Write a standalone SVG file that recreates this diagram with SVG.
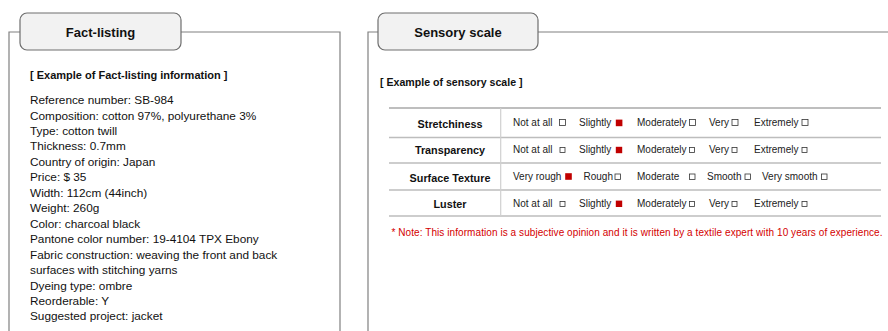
<svg xmlns="http://www.w3.org/2000/svg" width="888" height="331" viewBox="0 0 888 331">
<style>
.frame{fill:none;stroke:#808080;stroke-width:1.2}
.tab{fill:#f2f2f2;stroke:#6e6e6e;stroke-width:1.2}
.title{font-family:"Liberation Sans",Arial,sans-serif;font-weight:bold;font-size:13px;fill:#111;text-anchor:middle}
.hdr{font-family:"Liberation Sans",Arial,sans-serif;font-weight:bold;font-size:11px;fill:#111}
.body{font-family:"Liberation Sans",Arial,sans-serif;font-size:11.8px;fill:#111}
.lbl{font-family:"Liberation Sans",Arial,sans-serif;font-weight:bold;font-size:10.8px;fill:#111;text-anchor:middle}
.opt{font-family:"Liberation Sans",Arial,sans-serif;font-size:10px;fill:#222}
.tl{stroke:#bdbdbd;stroke-width:1.5}
.box{fill:#fff;stroke:#333;stroke-width:0.8}
.on{fill:#c00000}
.note{font-family:"Liberation Sans",Arial,sans-serif;font-size:10px;fill:#d40000}
</style>
<rect width="888" height="331" fill="#fff"/>
<g id="fact-listing">
<path class="frame" d="M9,331 V32 H340 V331"/>
<rect class="tab" x="20" y="13" width="161" height="37" rx="7"/>
<text class="title" x="100.5" y="36.5">Fact-listing</text>
<text class="hdr" x="30" y="79">[ Example of Fact-listing information ]</text>
<g class="body">
<text x="30" y="104">Reference number: SB-984</text>
<text x="30" y="119.5">Composition: cotton 97%, polyurethane 3%</text>
<text x="30" y="134.9">Type: cotton twill</text>
<text x="30" y="150.4">Thickness: 0.7mm</text>
<text x="30" y="165.8">Country of origin: Japan</text>
<text x="30" y="181.3">Price: $ 35</text>
<text x="30" y="196.8">Width: 112cm (44inch)</text>
<text x="30" y="212.2">Weight: 260g</text>
<text x="30" y="227.7">Color: charcoal black</text>
<text x="30" y="243.1">Pantone color number: 19-4104 TPX Ebony</text>
<text x="30" y="258.6">Fabric construction: weaving the front and back</text>
<text x="30" y="274.1">surfaces with stitching yarns</text>
<text x="30" y="289.5">Dyeing type: ombre</text>
<text x="30" y="305">Reorderable: Y</text>
<text x="30" y="320.4">Suggested project: jacket</text>
</g>
</g>
<g id="sensory-scale">
<path class="frame" d="M368,331 V32 H888"/>
<rect class="tab" x="378" y="13" width="160" height="37" rx="7"/>
<text class="title" x="458" y="36.5">Sensory scale</text>
<text class="hdr" x="380" y="85.5" style="font-size:10.6px">[ Example of sensory scale ]</text>
<g id="table">
<line class="tl" x1="389" y1="108" x2="881" y2="108" style="stroke:#a8a8a8"/>
<line class="tl" x1="389" y1="137.5" x2="881" y2="137.5"/>
<line class="tl" x1="389" y1="163" x2="881" y2="163"/>
<line class="tl" x1="389" y1="190" x2="881" y2="190"/>
<line class="tl" x1="389" y1="216" x2="881" y2="216"/>
<line x1="500.7" y1="108" x2="500.7" y2="216" stroke="#d0d0d0" stroke-width="1.2"/>
<text class="lbl" x="450" y="128">Stretchiness</text>
<text class="lbl" x="450" y="154">Transparency</text>
<text class="lbl" x="450" y="181.5">Surface Texture</text>
<text class="lbl" x="450" y="208">Luster</text>
<g class="opt">
<text x="513" y="126">Not at all</text><text x="579" y="126">Slightly</text><text x="637" y="126">Moderately</text><text x="709" y="126">Very</text><text x="754" y="126">Extremely</text>
<text x="513" y="152.5">Not at all</text><text x="579" y="152.5">Slightly</text><text x="637" y="152.5">Moderately</text><text x="709" y="152.5">Very</text><text x="754" y="152.5">Extremely</text>
<text x="513" y="180">Very rough</text><text x="583.5" y="180">Rough</text><text x="637" y="180">Moderate</text><text x="707" y="180">Smooth</text><text x="762" y="180">Very smooth</text>
<text x="513" y="206.5">Not at all</text><text x="579" y="206.5">Slightly</text><text x="637" y="206.5">Moderately</text><text x="709" y="206.5">Very</text><text x="754" y="206.5">Extremely</text>
</g>
<g>
<rect class="box" x="559.5" y="119.5" width="6" height="6"/><rect class="on" x="615.8" y="119.6" width="6.6" height="6.6"/><rect class="box" x="689.5" y="119.5" width="6" height="6"/><rect class="box" x="732" y="119.5" width="6" height="6"/><rect class="box" x="802" y="119.5" width="6" height="6"/>
<rect class="box" x="560" y="147.5" width="5" height="5"/><rect class="on" x="615.8" y="146.8" width="6.4" height="6.4"/><rect class="box" x="689.5" y="147.5" width="5" height="5"/><rect class="box" x="732" y="147.5" width="5" height="5"/><rect class="box" x="802" y="147.5" width="5" height="5"/>
<rect class="on" x="565.2" y="173.2" width="6.6" height="6.6"/><rect class="box" x="615" y="174" width="5.5" height="5.5"/><rect class="box" x="689.5" y="174" width="5.5" height="5.5"/><rect class="box" x="745" y="174" width="5.5" height="5.5"/><rect class="box" x="821.5" y="174" width="5.5" height="5.5"/>
<rect class="box" x="560" y="201.5" width="5" height="5"/><rect class="on" x="615.8" y="200.6" width="6.4" height="6.4"/><rect class="box" x="689.5" y="201.5" width="5" height="5"/><rect class="box" x="732" y="201.5" width="5" height="5"/><rect class="box" x="802" y="201.5" width="5" height="5"/>
</g>
</g>
<text class="note" x="391.5" y="235.5" textLength="491" lengthAdjust="spacing">* Note: This information is a subjective opinion and it is written by a textile expert with 10 years of experience.</text>
</g>
</svg>
